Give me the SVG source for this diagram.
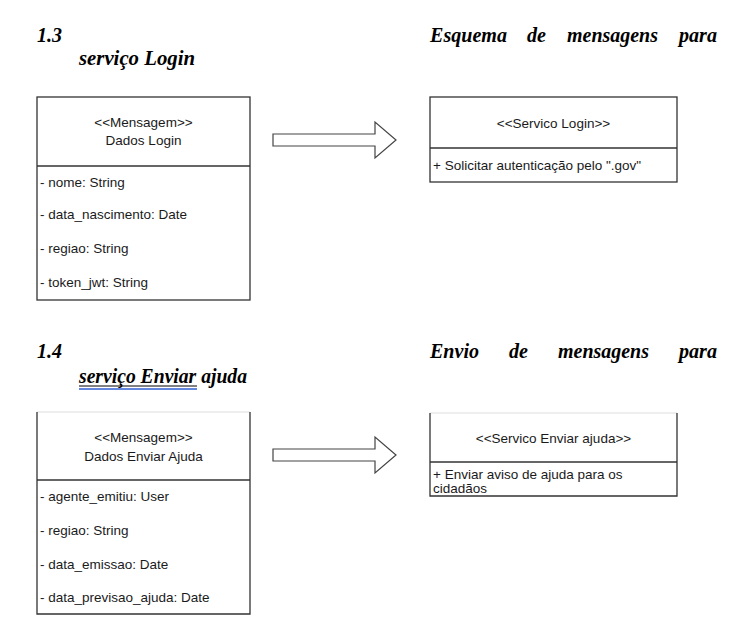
<svg xmlns="http://www.w3.org/2000/svg" width="752" height="641" viewBox="0 0 752 641">
<style>
.h{font-family:"Liberation Serif","Times New Roman",serif;font-weight:bold;font-style:italic;font-size:21.5px;fill:#000}
.t{font-family:"Liberation Sans",Arial,sans-serif;font-size:13.5px;fill:#1a1a1a}
.c{text-anchor:middle}
.b{fill:#fff;stroke:#333;stroke-width:1.3}
.l{stroke:#333;stroke-width:1.3;fill:none}
.a{fill:#fff;stroke:#444;stroke-width:1.2;stroke-linejoin:miter}
</style>
<rect width="752" height="641" fill="#fff"/>
<g id="heading13">
<text class="h" x="37" y="42" textLength="25" lengthAdjust="spacingAndGlyphs">1.3</text>
<text class="h" x="430" y="42" textLength="77" lengthAdjust="spacingAndGlyphs">Esquema</text>
<text class="h" x="527" y="42" textLength="19" lengthAdjust="spacingAndGlyphs">de</text>
<text class="h" x="567" y="42" textLength="91" lengthAdjust="spacingAndGlyphs">mensagens</text>
<text class="h" x="679" y="42" textLength="38" lengthAdjust="spacingAndGlyphs">para</text>
<text class="h" x="79" y="65" textLength="116" lengthAdjust="spacingAndGlyphs">serviço Login</text>
</g>
<g id="heading14">
<text class="h" x="37" y="358" textLength="25" lengthAdjust="spacingAndGlyphs">1.4</text>
<text class="h" x="430" y="358" textLength="49" lengthAdjust="spacingAndGlyphs">Envio</text>
<text class="h" x="509" y="358" textLength="19" lengthAdjust="spacingAndGlyphs">de</text>
<text class="h" x="558" y="358" textLength="91" lengthAdjust="spacingAndGlyphs">mensagens</text>
<text class="h" x="679" y="358" textLength="38" lengthAdjust="spacingAndGlyphs">para</text>
<text class="h" x="79" y="383" textLength="168" lengthAdjust="spacingAndGlyphs">serviço Enviar ajuda</text>
<line x1="79" y1="386" x2="197" y2="386" stroke="#000" stroke-width="1"/>
<line x1="79" y1="389" x2="197" y2="389" stroke="#2f5fd0" stroke-width="1.5"/>
</g>
<g id="msgLogin">
<rect class="b" x="37" y="97" width="213" height="203"/>
<line class="l" x1="37" y1="166" x2="250" y2="166"/>
<text class="t c" x="143.5" y="127">&lt;&lt;Mensagem&gt;&gt;</text>
<text class="t c" x="143.5" y="145">Dados Login</text>
<text class="t" x="40" y="187">- nome: String</text>
<text class="t" x="40" y="219">- data_nascimento: Date</text>
<text class="t" x="40" y="253">- regiao: String</text>
<text class="t" x="40" y="287">- token_jwt: String</text>
</g>
<g id="svcLogin">
<rect class="b" x="430" y="97" width="247" height="85"/>
<line class="l" x1="430" y1="148" x2="677" y2="148"/>
<text class="t c" x="553.5" y="128">&lt;&lt;Servico Login&gt;&gt;</text>
<text class="t" x="433" y="170">+ Solicitar autenticação pelo ".gov"</text>
</g>
<g id="msgAjuda">
<rect x="37" y="412" width="213" height="202" fill="#fff" stroke="none"/>
<line x1="37" y1="412" x2="250" y2="412" stroke="#ddd" stroke-width="1"/>
<polyline class="l" points="37,412 37,614 250,614 250,412"/>
<line class="l" x1="37" y1="480" x2="250" y2="480"/>
<text class="t c" x="143.5" y="442">&lt;&lt;Mensagem&gt;&gt;</text>
<text class="t c" x="143.5" y="461">Dados Enviar Ajuda</text>
<text class="t" x="40" y="501">- agente_emitiu: User</text>
<text class="t" x="40" y="535">- regiao: String</text>
<text class="t" x="40" y="569">- data_emissao: Date</text>
<text class="t" x="40" y="602">- data_previsao_ajuda: Date</text>
</g>
<g id="svcAjuda">
<rect x="430" y="413" width="247" height="83" fill="#fff" stroke="none"/>
<line x1="430" y1="413" x2="677" y2="413" stroke="#ddd" stroke-width="1"/>
<polyline class="l" points="430,413 430,496 677,496 677,413"/>
<line class="l" x1="430" y1="462" x2="677" y2="462"/>
<text class="t c" x="553.5" y="443">&lt;&lt;Servico Enviar ajuda&gt;&gt;</text>
<text class="t" x="433" y="479">+ Enviar aviso de ajuda para os</text>
<text class="t" x="433" y="493">cidadãos</text>
</g>
<g id="connectors">
<polygon class="a" points="273,134 375,134 375,122 396,140 375,158 375,146 273,146"/>
<polygon class="a" points="273,449 375,449 375,437 396,455 375,473 375,461 273,461"/>
</g>
</svg>
